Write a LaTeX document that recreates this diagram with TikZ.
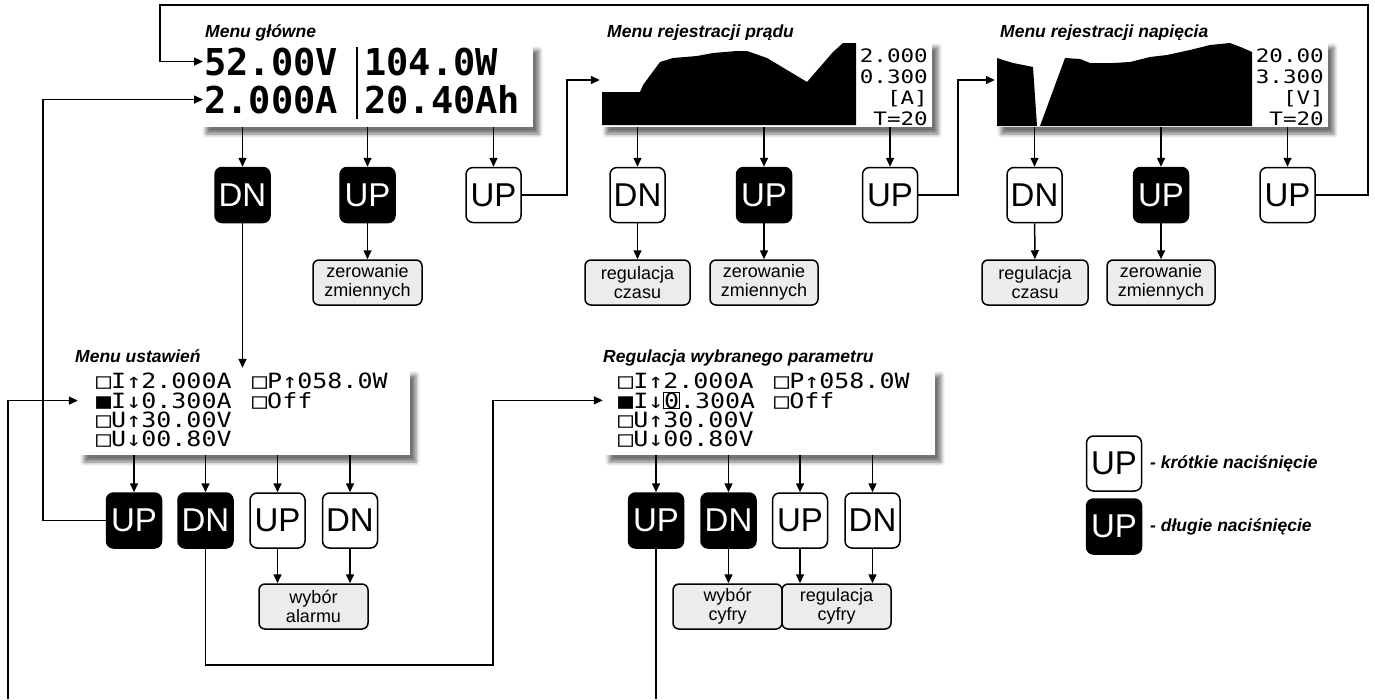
\documentclass[tikz,border=0pt]{standalone}
\usepackage{fontspec}
\setmainfont{Liberation Sans}
\newfontfamily\lcdbig{DejaVu Sans Mono}
\newfontfamily\lcdrow[FakeStretch=1.19]{DejaVu Sans Mono}
\newfontfamily\lcdnum[FakeStretch=1.22]{DejaVu Sans Mono}
\usetikzlibrary{arrows.meta,shadows.blur}

\begin{document}
\begin{tikzpicture}[x=1pt, y=-1pt,
  screen/.style={fill=white, inner sep=0pt, blur shadow={shadow xshift=6pt, shadow yshift=-7pt, shadow blur radius=4pt, shadow opacity=55}},
  key/.style={draw, rounded corners=7pt, line width=1.5pt, minimum size=55pt, inner sep=0pt, font=\fontsize{33}{33}\selectfont},
  kshort/.style={key, fill=white, text=black},
  klong/.style={key, fill=black, text=white},
  res/.style={draw, fill=gray!15, rounded corners=6pt, line width=1.5pt, align=center, inner sep=1pt, minimum height=45pt, font=\fontsize{18}{19}\selectfont},
  ttl/.style={anchor=base west, inner sep=0pt, font=\fontsize{17.5}{20}\selectfont\bfseries\itshape},
  big/.style={anchor=base west, inner sep=1pt, font=\fontsize{37}{37}\selectfont\lcdbig\bfseries},
  row/.style={anchor=base west, inner sep=0pt, font=\fontsize{21}{21}\selectfont\lcdrow},
  num/.style={anchor=base east, inner sep=0pt, font=\fontsize{18.5}{18.5}\selectfont\lcdnum},
  arr/.style={-{Triangle[length=9pt,width=8pt]}, line width=1.5pt}]
\useasboundingbox (0,0) rectangle (1375,699);

% main menu
\node[ttl] at (205,37) (tmain) {Menu główne};
\node[screen, minimum width=333pt, minimum height=84pt] at (366.5,85) (scrmain) {};
\node[big] at (203,75) (m1) {52.00V};
\node[big] at (363,75) (m2) {104.0W};
\node[big] at (203,113) (m3) {2.000A};
\node[big] at (363,113) (m4) {20.40Ah};
\draw[line width=2pt] (357,47) -- (357,119);

\node[klong] at (242.5,195) (mdn) {DN};
\node[klong] at (367.5,195) (mup1) {UP};
\node[kshort] at (493.5,195) (mup2) {UP};
\node[res, minimum width=109pt] at (367.5,282.5) (mres) {zerowanie\\zmiennych};

% current log
\node[ttl] at (607,37) (tcur) {Menu rejestracji prądu};
\node[screen, minimum width=332pt, minimum height=87pt] at (766,83.5) (scrcur) {};
\fill (602,125) -- (602,92) -- (640,92) -- (643,85) -- (660,62) -- (673,58) -- (697,56) -- (713,53)
  -- (737,51) -- (747,51) -- (767,58) -- (807,82) -- (833,52) -- (843,43) -- (856,43) -- (856,125) -- cycle;
\node[num] at (928,62) (c1) {2.000};
\node[num] at (928,83) (c2) {0.300};
\node[num] at (928,104) (c3) {[A]};
\node[num] at (928,125) (c4) {T=20};

\node[kshort] at (637.5,195) (cdn) {DN};
\node[klong] at (764,195) (cup1) {UP};
\node[kshort] at (890,195) (cup2) {UP};
\node[res, minimum width=105pt] at (637.5,282.5) (cres1) {regulacja\\czasu};
\node[res, minimum width=108pt] at (764,282.5) (cres2) {zerowanie\\zmiennych};

% voltage log
\node[ttl] at (1000,37) (tvolt) {Menu rejestracji napięcia};
\node[screen, minimum width=333pt, minimum height=87pt] at (1161.5,83.5) (scrvolt) {};
\fill (997,126) -- (997,58) -- (1003,60) -- (1013,63) -- (1033,67) -- (1037,126) -- (1040,126) -- (1065,58)
  -- (1080,59) -- (1090,63) -- (1113,63) -- (1130,62) -- (1150,57) -- (1167,55) -- (1190,50) -- (1210,45)
  -- (1230,43) -- (1243,48) -- (1252,52) -- (1252,126) -- cycle;
\node[num] at (1324,62) (v1) {20.00};
\node[num] at (1324,83) (v2) {3.300};
\node[num] at (1324,104) (v3) {[V]};
\node[num] at (1324,125) (v4) {T=20};

\node[kshort] at (1034.5,195) (vdn) {DN};
\node[klong] at (1161,195) (vup1) {UP};
\node[kshort] at (1287.5,195) (vup2) {UP};
\node[res, minimum width=106pt] at (1035,282.5) (vres1) {regulacja\\czasu};
\node[res, minimum width=108pt] at (1161,282.5) (vres2) {zerowanie\\zmiennych};

% settings
\node[ttl] at (75,362) (tset) {Menu ustawień};
\node[screen, minimum width=332pt, minimum height=87pt] at (244,411.5) (scrset) {};
\node[row] at (96,388) (s1) {□I↑2.000A};
\node[row] at (96,408) (s2) {■I↓0.300A};
\node[row] at (96,427) (s3) {□U↑30.00V};
\node[row] at (96,446) (s4) {□U↓00.80V};
\node[row] at (252,388) (s5) {□P↑058.0W};
\node[row] at (252,408) (s6) {□Off};

\node[klong] at (134,520.5) (sup) {UP};
\node[klong] at (205.5,520.5) (sdn) {DN};
\node[kshort] at (277.5,520.5) (sup2) {UP};
\node[kshort] at (350,520.5) (sdn2) {DN};
\node[res, minimum width=109pt] at (313.5,606.5) (sres) {wybór\\alarmu};

% parameter adjust
\node[ttl] at (603,362) (tadj) {Regulacja wybranego parametru};
\node[screen, minimum width=332pt, minimum height=87pt] at (769,411.5) (scradj) {};
\node[row] at (618,388) (a1) {□I↑2.000A};
\node[row] at (618,408) (a2) {■I↓{\fboxsep=0pt\fboxrule=0.8pt\fbox{0}}.300A};
\node[row] at (618,427) (a3) {□U↑30.00V};
\node[row] at (618,446) (a4) {□U↓00.80V};
\node[row] at (774,388) (a5) {□P↑058.0W};
\node[row] at (774,408) (a6) {□Off};

\node[klong] at (656,520.5) (aup) {UP};
\node[klong] at (728.5,520.5) (adn) {DN};
\node[kshort] at (800,520.5) (aup2) {UP};
\node[kshort] at (872.5,520.5) (adn2) {DN};
\node[res, minimum width=109pt] at (727.5,606.5) (ares1) {wybór\\cyfry};
\node[res, minimum width=109pt] at (836.5,606.5) (ares2) {regulacja\\cyfry};

% legend
\node[kshort] at (1114,463.5) (lshort) {UP};
\node[klong] at (1114,526.5) (llong) {UP};
\node[ttl, anchor=west] at (1150,463.5) (tshort) {- krótkie naciśnięcie};
\node[ttl, anchor=west] at (1150,526.5) (tlong) {- długie naciśnięcie};

% connectors
\draw[arr] (scrmain.south -| mdn) -- (mdn);
\draw[arr] (scrmain.south -| mup1) -- (mup1);
\draw[arr] (scrmain.south -| mup2) -- (mup2);
\draw[arr] (mup1) -- (mres);
\draw[arr] (mdn) -- (scrset.north -| mdn);
\draw[arr] (mup2) -| (567,80) -- (scrcur.west |- 567,80);

\draw[arr] (scrcur.south -| cdn) -- (cdn);
\draw[arr] (scrcur.south -| cup1) -- (cup1);
\draw[arr] (scrcur.south -| cup2) -- (cup2);
\draw[arr] (cdn) -- (cres1);
\draw[arr] (cup1) -- (cres2);
\draw[arr] (cup2) -| (958,80) -- (scrvolt.west |- 958,80);

\draw[arr] (scrvolt.south -| vdn) -- (vdn);
\draw[arr] (scrvolt.south -| vup1) -- (vup1);
\draw[arr] (scrvolt.south -| vup2) -- (vup2);
\draw[arr] (vdn) -- (vres1);
\draw[arr] (vup1) -- (vres2);
\draw[arr] (vup2) -| (1368,5) -- (160,5) |- (m1);

\draw[arr] (scrset.south -| sup) -- (sup);
\draw[arr] (scrset.south -| sdn) -- (sdn);
\draw[arr] (scrset.south -| sup2) -- (sup2);
\draw[arr] (scrset.south -| sdn2) -- (sdn2);
\draw[arr] (sup2) -- (sres.north -| sup2);
\draw[arr] (sdn2) -- (sres.north -| sdn2);
\draw[arr] (sup) -- (sup -| 43,0) |- (m3);
\draw[arr] (sdn) |- (493,665) |- (scradj.west |- a2);
\coordinate (lend) at (8,699);
\draw[arr] (lend) |- (scrset.west |- s2);

\draw[arr] (scradj.south -| aup) -- (aup);
\draw[arr] (scradj.south -| adn) -- (adn);
\draw[arr] (scradj.south -| aup2) -- (aup2);
\draw[arr] (scradj.south -| adn2) -- (adn2);
\draw[arr] (adn) -- (ares1.north -| adn);
\draw[arr] (aup2) -- (ares2.north -| aup2);
\draw[arr] (adn2) -- (ares2.north -| adn2);
\coordinate (aend) at (656,699);
\draw[line width=1.5pt] (aup) -- (aend);
\end{tikzpicture}
\end{document}
